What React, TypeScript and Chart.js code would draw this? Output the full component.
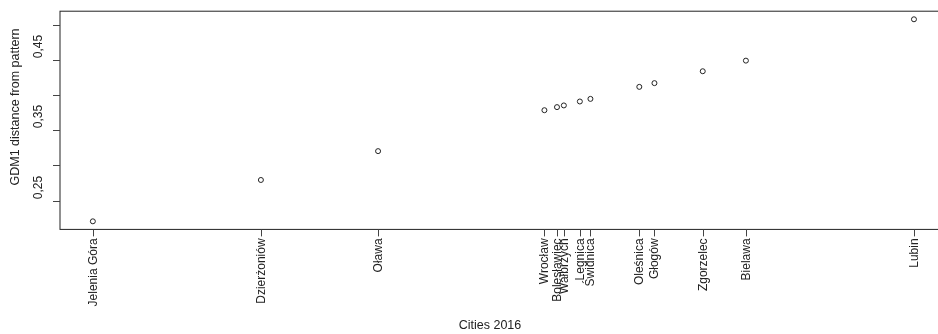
import React, { useEffect, useRef } from "react";
import { Chart, registerables } from "chart.js";

Chart.register(...registerables);

const cities = [
  "Jelenia Góra",
  "Dzierżoniów",
  "Oława",
  "Wrocław",
  "Bolesławiec",
  "Wałbrzych",
  "Legnica",
  "Świdnica",
  "Oleśnica",
  "Głogów",
  "Zgorzelec",
  "Bielawa",
  "Lubin",
];
const distances = [
  0.2204, 0.2792, 0.3202, 0.3784, 0.3828, 0.3852, 0.3908, 0.3945, 0.4116,
  0.4169, 0.4338, 0.4489, 0.5077,
];
const yTicks = [0.25, 0.3, 0.35, 0.4, 0.45, 0.5];
const yTickLabels = ["0,25", "", "0,35", "", "0,45", ""];
const xTitle = "Cities 2016";
const yTitle = "GDM1 distance from pattern";

const FONT = '"Liberation Sans", Arial, sans-serif';
const INK = "#222";

export default function App() {
  const ref = useRef<HTMLCanvasElement | null>(null);

  useEffect(() => {
    document.body.style.margin = "0";
    const canvas = ref.current;
    if (!canvas) return;
    const lo = Math.min(...distances);
    const hi = Math.max(...distances);
    const pad = (hi - lo) * 0.04;
    const min = lo - pad;
    const max = hi + pad;

    const axisPlugin = {
      id: "rAxes",
      afterDraw(chart: any) {
        const { ctx, chartArea } = chart;
        const xs = chart.scales.x;
        const ys = chart.scales.y;
        ctx.save();
        ctx.strokeStyle = INK;
        ctx.lineWidth = 1;
        ctx.strokeRect(
          chartArea.left,
          chartArea.top,
          chartArea.right - chartArea.left,
          chartArea.bottom - chartArea.top
        );
        // y ticks
        ctx.strokeStyle = "#444";
        ctx.fillStyle = INK;
        ctx.font = `12px ${FONT}`;
        yTicks.forEach((t, i) => {
          const py = Math.round(ys.getPixelForValue(t)) + 0.5;
          ctx.beginPath();
          ctx.moveTo(chartArea.left - 7, py);
          ctx.lineTo(chartArea.left, py);
          ctx.stroke();
          const lab = yTickLabels[i];
          if (lab) {
            ctx.save();
            ctx.translate(39, py - 14);
            ctx.rotate(-Math.PI / 2);
            ctx.textAlign = "center";
            ctx.textBaseline = "middle";
            ctx.fillText(lab, 0, 0);
            ctx.restore();
          }
        });
        // x ticks and labels
        distances.forEach((v, i) => {
          const px = Math.round(xs.getPixelForValue(v)) + 0.5;
          ctx.beginPath();
          ctx.moveTo(px, chartArea.bottom);
          ctx.lineTo(px, chartArea.bottom + 7);
          ctx.stroke();
          ctx.save();
          ctx.translate(px, chartArea.bottom + 9);
          ctx.rotate(-Math.PI / 2);
          ctx.textAlign = "right";
          ctx.textBaseline = "middle";
          ctx.fillText(cities[i], 0, 0);
          ctx.restore();
        });
        // titles
        ctx.font = `12.5px ${FONT}`;
        ctx.textAlign = "center";
        ctx.textBaseline = "middle";
        ctx.fillText(xTitle, 490, 326);
        ctx.save();
        ctx.translate(16, 107);
        ctx.rotate(-Math.PI / 2);
        ctx.fillText(yTitle, 0, 0);
        ctx.restore();
        ctx.restore();
      },
    };

    const chart = new Chart(canvas, {
      type: "scatter",
      data: {
        datasets: [
          {
            data: distances.map((v) => ({ x: v, y: v })),
            pointRadius: 2.5,
            pointBorderWidth: 1,
            pointBorderColor: INK,
            pointBackgroundColor: "rgba(0,0,0,0)",
            pointHoverRadius: 2.5,
          },
        ],
      },
      options: {
        responsive: false,
        animation: false,
        events: [],
        layout: {
          padding: { left: 60, top: 11.2, right: 13.2, bottom: 104.6 },
        },
        plugins: {
          legend: { display: false },
          tooltip: { enabled: false },
        },
        scales: {
          x: { type: "linear", min, max, display: false },
          y: { type: "linear", min, max, display: false },
        },
      },
      plugins: [axisPlugin],
    });
    return () => chart.destroy();
  }, []);

  return (
    <div
      style={{
        position: "absolute",
        left: 0,
        top: 0,
        width: 938,
        height: 334,
        overflow: "hidden",
        background: "#fff",
      }}
    >
      <canvas ref={ref} width={960} height={334} style={{ width: 960, height: 334 }} />
    </div>
  );
}
